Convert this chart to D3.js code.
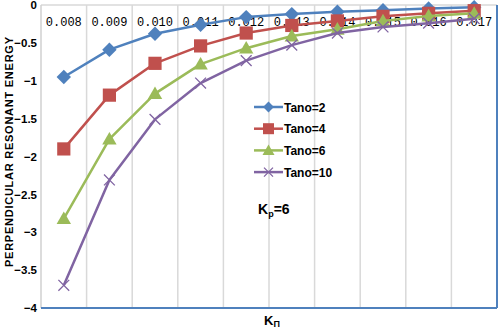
<!DOCTYPE html>
<html>
<head>
<meta charset="utf-8">
<script src="https://cdn.jsdelivr.net/npm/d3@7"></script>
<style>
  body { margin: 0; background: #fff; }
  svg { display: block; }
</style>
</head>
<body>
<svg id="chart" width="499" height="330"></svg>
<script>
// Data
var kpar = ['0.008', '0.009', '0.010', '0.011', '0.012', '0.013', '0.014', '0.015', '0.016', '0.017'];
var tano2  = [-0.95, -0.59, -0.38, -0.26, -0.16, -0.12, -0.09, -0.07, -0.045, -0.03];
var tano4  = [-1.9, -1.19, -0.77, -0.54, -0.37, -0.27, -0.21, -0.15, -0.11, -0.075];
var tano6  = [-2.82, -1.77, -1.17, -0.78, -0.57, -0.41, -0.32, -0.21, -0.145, -0.11];
var tano10 = [-3.7, -2.31, -1.51, -1.03, -0.735, -0.53, -0.37, -0.29, -0.24, -0.18];
var seriesNames = ['Tano=2', 'Tano=4', 'Tano=6', 'Tano=10'];
var yTicks = [0, -0.5, -1, -1.5, -2, -2.5, -3, -3.5, -4];

var colors = ['#4F81BD', '#C0504D', '#9BBB59', '#8064A2'];
var markers = ['diamond', 'square', 'triangle', 'cross'];
var series = [tano2, tano4, tano6, tano10];

var margin = {left: 41, right: 2, top: 5, bottom: 22};
var width = 499 - margin.left - margin.right;
var height = 330 - margin.top - margin.bottom;

var svg = d3.select('#chart').append('g')
  .attr('transform', 'translate(' + margin.left + ',' + margin.top + ')');

var xscale = d3.scaleBand().domain(kpar).range([0, width]);
var yscale = d3.scaleLinear().domain([-4, 0]).range([height, 0]);

// vertical gridlines at category boundaries
svg.append('g').selectAll('line')
  .data(kpar.slice(1))
  .enter().append('line')
  .attr('x1', function(d) { return xscale(d); })
  .attr('x2', function(d) { return xscale(d); })
  .attr('y1', 0).attr('y2', height)
  .attr('stroke', '#d9d9d9').attr('stroke-width', 1.5);

// plot borders
svg.append('line').attr('x1', 0).attr('x2', width).attr('y1', 0).attr('y2', 0)
  .attr('stroke', '#d9d9d9').attr('stroke-width', 1.5);
svg.append('line').attr('x1', 0).attr('x2', 0).attr('y1', 0).attr('y2', height)
  .attr('stroke', '#d0d0d0').attr('stroke-width', 1.5);
svg.append('line').attr('x1', 0).attr('x2', width).attr('y1', height).attr('y2', height)
  .attr('stroke', '#4F81BD').attr('stroke-width', 2);
svg.append('line').attr('x1', width).attr('x2', width).attr('y1', 0).attr('y2', height)
  .attr('stroke', '#4F81BD').attr('stroke-width', 2);

// Y axis labels
var yAxis = svg.append('g')
  .call(d3.axisLeft(yscale).tickValues(yTicks).tickSize(0).tickPadding(4)
    .tickFormat(function(d) { return d3.format('')(d); }));
yAxis.select('.domain').remove();
yAxis.selectAll('text')
  .style('font-family', '"Liberation Sans", Arial, sans-serif')
  .style('font-size', '11.5px').style('font-weight', 'bold').style('fill', '#000');

// X axis labels sit under the top edge
var xAxis = svg.append('g')
  .call(d3.axisTop(xscale).tickSize(0).tickPadding(0));
xAxis.select('.domain').remove();
xAxis.selectAll('text')
  .attr('y', 21)
  .style('font-family', '"Liberation Mono", "DejaVu Sans Mono", monospace')
  .style('font-size', '12px').style('fill', '#000');

// lines
var line = d3.line()
  .x(function(d, i) { return xscale(kpar[i]) + xscale.bandwidth() / 2; })
  .y(function(d) { return yscale(d); });

function drawMarker(g, type, color, size) {
  if (type == 'diamond') {
    var s = size * 0.6;
    g.append('path').attr('d', 'M0,' + (-s) + 'L' + s + ',0L0,' + s + 'L' + (-s) + ',0Z')
      .attr('fill', color);
  }
  if (type == 'square') {
    var s = size * 0.55;
    g.append('rect').attr('x', -s).attr('y', -s).attr('width', 2 * s).attr('height', 2 * s)
      .attr('fill', color);
  }
  if (type == 'triangle') {
    var s = size * 0.6;
    g.append('path').attr('d', 'M0,' + (-s) + 'L' + s + ',' + (s * 0.75) + 'L' + (-s) + ',' + (s * 0.75) + 'Z')
      .attr('fill', color);
  }
  if (type == 'cross') {
    var s = size * 0.45;
    g.append('path').attr('d', 'M' + (-s) + ',' + (-s) + 'L' + s + ',' + s + 'M' + (-s) + ',' + s + 'L' + s + ',' + (-s))
      .attr('stroke', color).attr('stroke-width', 1.3).attr('fill', 'none');
  }
}

for (var k = 0; k < series.length; k++) {
  svg.append('path')
    .datum(series[k])
    .attr('fill', 'none')
    .attr('stroke', colors[k])
    .attr('stroke-width', 2.5)
    .attr('stroke-linejoin', 'round')
    .attr('d', line);
  for (var i = 0; i < series[k].length; i++) {
    var g = svg.append('g')
      .attr('transform', 'translate(' + (xscale(kpar[i]) + xscale.bandwidth() / 2) + ',' + yscale(series[k][i]) + ')');
    drawMarker(g, markers[k], colors[k], 12);
  }
}

// legend
var legend = d3.select('#chart').append('g').attr('transform', 'translate(254,107)');
for (var k = 0; k < seriesNames.length; k++) {
  var row = legend.append('g').attr('transform', 'translate(0,' + (k * 21.7) + ')');
  row.append('line').attr('x1', 0).attr('x2', 29).attr('y1', 0).attr('y2', 0)
    .attr('stroke', colors[k]).attr('stroke-width', 2.5);
  drawMarker(row.append('g').attr('transform', 'translate(14.5,0)'), markers[k], colors[k], k == 0 ? 9 : 10);
  row.append('text').attr('x', 30).attr('y', 4.5)
    .style('font-family', '"Liberation Sans", Arial, sans-serif')
    .style('font-size', '12px').style('font-weight', 'bold')
    .text(seriesNames[k]);
}

// annotation K_p=6
var ann = d3.select('#chart').append('text').attr('x', 258).attr('y', 214)
  .style('font-family', '"Liberation Sans", Arial, sans-serif')
  .style('font-size', '14px').style('font-weight', 'bold');
ann.append('tspan').text('K');
ann.append('tspan').attr('dy', 3).style('font-size', '9px').text('p');
ann.append('tspan').attr('dy', -3).text('=6');

// x title
var xt = d3.select('#chart').append('text').attr('x', 264).attr('y', 325)
  .style('font-family', '"Liberation Sans", Arial, sans-serif')
  .style('font-size', '13px').style('font-weight', 'bold');
xt.append('tspan').text('K');
xt.append('tspan').attr('dy', 2).style('font-size', '9px').text('П');

// y title
d3.select('#chart').append('text')
  .attr('transform', 'translate(13,152) rotate(-90)')
  .attr('text-anchor', 'middle')
  .attr('textLength', 230)
  .style('font-family', '"Liberation Sans", Arial, sans-serif')
  .style('font-size', '11px').style('font-weight', 'bold')
  .text('PERPENDICULAR RESONANT ENERGY');
</script>
</body>
</html>
